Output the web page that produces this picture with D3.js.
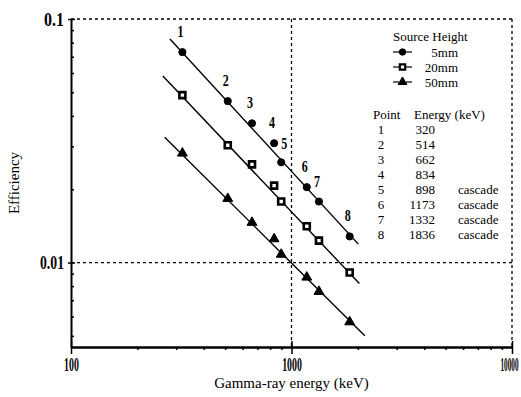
<!DOCTYPE html>
<html>
<head>
<meta charset="utf-8">
<script src="https://cdn.jsdelivr.net/npm/d3@7"></script>
<style>
  body { margin: 0; background: #fff; }
  svg { display: block; }
  svg text { font-family: 'Liberation Serif', 'DejaVu Serif', serif; }
</style>
</head>
<body>
<svg id="chart"></svg>
<script>
// values
const energies    = [320, 514, 662, 834, 898, 1173, 1332, 1836];
const pointLabels = ['1', '2', '3', '4', '5', '6', '7', '8'];
const cascadeFlag = ['', '', '', '', 'cascade', 'cascade', 'cascade', 'cascade'];
const eff5mm  = [0.0731, 0.0460, 0.0373, 0.0309, 0.0258, 0.0204, 0.0178, 0.0128];
const eff20mm = [0.0487, 0.0303, 0.0253, 0.0207, 0.0178, 0.0141, 0.0123, 0.0091];
const eff50mm = [0.0281, 0.0183, 0.0146, 0.0125, 0.0108, 0.0087, 0.0076, 0.0057];
// fitted straight lines (end points as drawn on the plot)
const fit5mm  = [[281, 0.0827], [2010, 0.0119]];
const fit20mm = [[261, 0.0583], [2032, 0.0082]];
const fit50mm = [[266, 0.0327], [2150, 0.0050]];
const heights = ['5mm', '20mm', '50mm'];
const xMajor = [100, 1000, 10000];
const yMajor = [0.01, 0.1];

const width = 521, height = 397;
const margin = { top: 19, right: 9, bottom: 50, left: 71 };
const serif = 'Liberation Serif';

const svg = d3.select('#chart').attr('width', width).attr('height', height);

const x = d3.scaleLog().domain([100, 10000]).range([margin.left, width - margin.right]);
const y = d3.scaleLog().domain([0.0045, 0.1]).range([height - margin.bottom, margin.top]);

const series = [
  { name: heights[0], values: eff5mm,  fit: fit5mm,  shape: d3.symbolCircle,   size: 40, fill: '#000' },
  { name: heights[1], values: eff20mm, fit: fit20mm, shape: d3.symbolSquare,   size: 36, fill: '#fff' },
  { name: heights[2], values: eff50mm, fit: fit50mm, shape: d3.symbolTriangle, size: 42, fill: '#000' }
];

// dotted frame + reference lines at 1000 keV and 0.01
const dash = '3,3';
const x0 = x.range()[0], x1 = x.range()[1];
const yTop = y.range()[1], yBot = y.range()[0];
const refs = svg.append('g').attr('stroke', '#000').attr('stroke-width', 1.3).attr('stroke-dasharray', dash);
refs.append('line').attr('x1', x0).attr('x2', x1).attr('y1', yTop).attr('y2', yTop);
refs.append('line').attr('x1', x1).attr('x2', x1).attr('y1', yTop).attr('y2', yBot);
refs.append('line').attr('x1', x(1000)).attr('x2', x(1000)).attr('y1', yTop).attr('y2', yBot);
refs.append('line').attr('x1', x0).attr('x2', x1).attr('y1', y(0.01)).attr('y2', y(0.01));

// axes
const xMinor = [], yMinor = [];
[100, 1000].forEach(d => { for (let k = 2; k <= 9; k++) xMinor.push(d * k); });
[0.001, 0.01].forEach(d => { for (let k = 2; k <= 9; k++) if (d * k >= 0.0045) yMinor.push(d * k); });

function styleAxis(g) {
  g.select('.domain').attr('stroke-width', 2);
  g.selectAll('.tick line').attr('stroke-width', 1.5);
}

svg.append('g')
  .attr('transform', `translate(0,${yBot})`)
  .call(d3.axisBottom(x).tickValues(xMinor).tickSize(3).tickSizeOuter(0).tickFormat(''))
  .call(styleAxis);
svg.append('g')
  .attr('transform', `translate(0,${yBot})`)
  .call(d3.axisTop(x).tickValues(xMajor).tickSize(6).tickSizeOuter(0).tickFormat(''))
  .call(g => g.select('.domain').remove())
  .call(styleAxis);
const xAx = svg.append('g')
  .attr('transform', `translate(0,${yBot})`)
  .call(d3.axisBottom(x).tickValues(xMajor).tickSize(7).tickSizeOuter(0).tickPadding(4).tickFormat(d3.format('d')))
  .call(styleAxis);
// condensed look of the scanned labels; the last one squeezed against the page edge
xAx.selectAll('text')
  .attr('font-family', serif).attr('font-weight', 'bold')
  .attr('font-size', 19).attr('fill', '#000')
  .attr('text-anchor', d => d === 10000 ? 'end' : 'middle')
  .attr('transform', d => d === 10000 ? 'translate(6,0) scale(0.38,1)' : 'scale(0.52,1)');

svg.append('g')
  .attr('transform', `translate(${x0},0)`)
  .call(d3.axisRight(y).tickValues(yMinor).tickSize(3).tickSizeOuter(0).tickFormat(''))
  .call(styleAxis);
svg.append('g')
  .attr('transform', `translate(${x0},0)`)
  .call(d3.axisRight(y).tickValues(yMajor).tickSize(4).tickSizeOuter(0).tickFormat(''))
  .call(g => g.select('.domain').remove())
  .call(styleAxis);
const yAx = svg.append('g')
  .attr('transform', `translate(${x0},0)`)
  .call(d3.axisLeft(y).tickValues(yMajor).tickSize(3).tickSizeOuter(0).tickPadding(4).tickFormat(d => d === 0.1 ? '0.1' : '0.01'))
  .call(g => g.select('.domain').remove())
  .call(styleAxis);
yAx.selectAll('text')
  .attr('font-family', serif).attr('font-weight', 'bold')
  .attr('font-size', 19).attr('fill', '#000')
  .attr('textLength', d => d === 0.1 ? 20 : 24)
  .attr('lengthAdjust', 'spacingAndGlyphs');

// axis titles
svg.append('text')
  .attr('x', (x0 + x1) / 2).attr('y', height - 9)
  .attr('text-anchor', 'middle').attr('font-size', 15)
  .attr('font-family', serif)
  .text('Gamma-ray energy  (keV)');
svg.append('text')
  .attr('transform', `translate(19,${(yTop + yBot) / 2}) rotate(-90)`)
  .attr('text-anchor', 'middle').attr('font-size', 15)
  .attr('font-family', serif)
  .text('Efficiency');

// fit lines and markers
const line = d3.line().x(d => x(d[0])).y(d => y(d[1]));
series.forEach(s => {
  svg.append('path')
    .attr('d', line(s.fit))
    .attr('fill', 'none').attr('stroke', '#000').attr('stroke-width', 1.4);

  svg.append('g').selectAll('path')
    .data(s.values.map((v, i) => [energies[i], v]))
    .join('path')
      .attr('transform', d => `translate(${x(d[0])},${y(d[1])})`)
      .attr('d', d3.symbol().type(s.shape).size(s.size))
      .attr('fill', s.fill).attr('stroke', '#000').attr('stroke-width', s.fill === '#fff' ? 2.6 : 1);
});

// point numbers above the 5 mm curve
svg.append('g').selectAll('text')
  .data(pointLabels)
  .join('text')
    .attr('x', (d, i) => x(energies[i]) + (i === 4 ? 3 : -2))
    .attr('y', (d, i) => y(eff5mm[i]) - (i === 4 ? 13 : 15))
    .attr('text-anchor', 'middle')
    .attr('font-family', serif).attr('font-weight', 'bold')
    .attr('font-size', 17)
    .attr('textLength', 6).attr('lengthAdjust', 'spacingAndGlyphs')
    .text(d => d);

// legend
const legend = svg.append('g').attr('font-size', 13).attr('font-family', serif);
legend.append('text').attr('x', 393).attr('y', 41).text('Source Height');
series.forEach((s, i) => {
  const ly = 52 + i * 15;
  legend.append('line').attr('x1', 393).attr('x2', 399).attr('y1', ly).attr('y2', ly).attr('stroke', '#000').attr('stroke-width', 1.2);
  legend.append('line').attr('x1', 406).attr('x2', 412).attr('y1', ly).attr('y2', ly).attr('stroke', '#000').attr('stroke-width', 1.2);
  legend.append('path')
    .attr('transform', `translate(402.5,${ly})`)
    .attr('d', d3.symbol().type(s.shape).size(s.size * 0.8))
    .attr('fill', s.fill).attr('stroke', '#000').attr('stroke-width', s.fill === '#fff' ? 2.2 : 1);
  legend.append('text').attr('x', 458).attr('y', ly + 4.5).attr('text-anchor', 'end').text(s.name);
});

// energy table
const table = svg.append('g').attr('font-size', 13).attr('font-family', serif);
table.append('text').attr('x', 373).attr('y', 119).text('Point');
table.append('text').attr('x', 414).attr('y', 119).text('Energy (keV)');
const rows = table.selectAll('g.row')
  .data(energies)
  .join('g')
    .attr('class', 'row')
    .attr('transform', (d, i) => `translate(0,${134 + i * 15})`);
rows.append('text').attr('x', 381).attr('text-anchor', 'middle').text((d, i) => pointLabels[i]);
rows.append('text').attr('x', 435).attr('text-anchor', 'end').text(d => d);
rows.append('text').attr('x', 458).text((d, i) => cascadeFlag[i]);
</script>
</body>
</html>
